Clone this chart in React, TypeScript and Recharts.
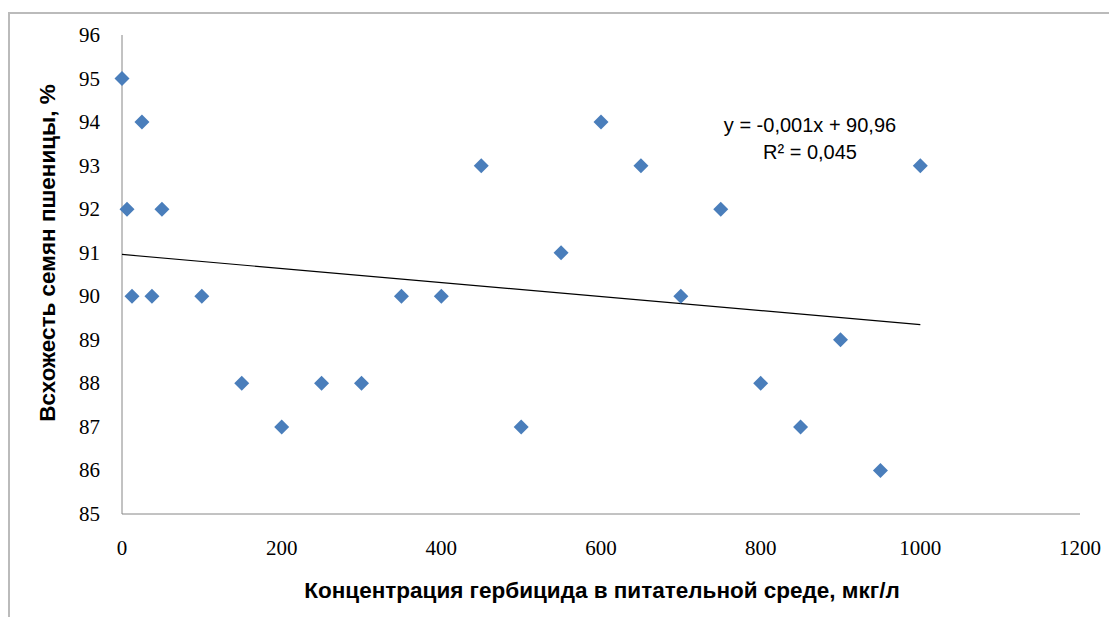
import React from 'react';
import { ScatterChart, Scatter, XAxis, YAxis, Customized } from 'recharts';

// concentration, µg/l
const concentration = [0, 6.25, 12.5, 25, 37.5, 50, 100, 150, 200, 250, 300, 350, 400, 450, 500, 550, 600, 650, 700, 750, 800, 850, 900, 950, 1000];
// germination, %
const germination = [95, 92, 90, 94, 90, 92, 90, 88, 87, 88, 88, 90, 90, 93, 87, 91, 94, 93, 90, 92, 88, 87, 89, 86, 93];

const trendX = [0, 1000];
const trendY = [90.96, 89.35];

const xTicks = [0, 200, 400, 600, 800, 1000, 1200];
const yTicks = [85, 86, 87, 88, 89, 90, 91, 92, 93, 94, 95, 96];

const points = concentration.map((x, i) => ({ x, y: germination[i] }));
const trend = trendX.map((x, i) => ({ x, y: trendY[i] }));

const Diamond = (props: any) => {
  const { cx, cy } = props;
  const r = 7.5;
  return <path d={`M${cx},${cy - r}L${cx + r},${cy}L${cx},${cy + r}L${cx - r},${cy}Z`} fill="#4A7EBB" />;
};

const SERIF = 'Liberation Serif';

const XTick = (props: any) => {
  const { x, y, payload } = props;
  return (
    <text x={x} y={y + 14} textAnchor="middle" dominantBaseline="central" fontFamily={SERIF} fontSize={21} fill="#000">
      {payload.value}
    </text>
  );
};

const YTick = (props: any) => {
  const { x, y, payload } = props;
  return (
    <text x={x} y={y} textAnchor="end" dominantBaseline="central" fontFamily={SERIF} fontSize={21} fill="#000">
      {payload.value}
    </text>
  );
};

const Labels = () => (
  <g fontFamily="Liberation Sans" fill="#000">
    <text x={47} y={253} fontSize={22.5} fontWeight="bold" textAnchor="middle" dominantBaseline="central" transform="rotate(-90 47 253)">
      Всхожесть семян пшеницы, %
    </text>
    <text x={602} y={590} fontSize={22.5} fontWeight="bold" textAnchor="middle" dominantBaseline="central">
      Концентрация гербицида в питательной среде, мкг/л
    </text>
    <text x={810} y={125} fontSize={20} textAnchor="middle" dominantBaseline="central">
      y = -0,001x + 90,96
    </text>
    <text x={810} y={152} fontSize={20} textAnchor="middle" dominantBaseline="central">
      R² = 0,045
    </text>
  </g>
);

export default function App() {
  return (
    <div style={{ position: 'relative', width: 1101, height: 609 }}>
      <div
        style={{
          position: 'absolute',
          left: 0,
          top: 4,
          width: 1101,
          height: 605,
          borderTop: '2px solid #bbbbbb',
          borderLeft: '2px solid #bbbbbb',
          boxSizing: 'border-box',
        }}
      />
      <div style={{ position: 'absolute', left: -8, top: -8 }}>
        <ScatterChart width={1117} height={625} margin={{ top: 35, right: 37, bottom: 71, left: 62 }}>
          <XAxis
            type="number"
            dataKey="x"
            domain={[0, 1200]}
            ticks={xTicks}
            interval={0}
            height={40}
            axisLine={{ stroke: '#868686' }}
            tickLine={false}
            tickSize={0}
            tickMargin={20}
            tick={<XTick />}
          />
          <YAxis
            type="number"
            dataKey="y"
            domain={[85, 96]}
            ticks={yTicks}
            interval={0}
            width={60}
            axisLine={{ stroke: '#868686' }}
            tickLine={false}
            tickSize={0}
            tickMargin={22}
            tick={<YTick />}
          />
          <Scatter
            data={trend}
            line={{ stroke: '#000', strokeWidth: 1.2 }}
            shape={() => <g />}
            isAnimationActive={false}
          />
          <Scatter data={points} shape={Diamond} isAnimationActive={false} />
          <Customized component={Labels} />
        </ScatterChart>
      </div>
    </div>
  );
}
